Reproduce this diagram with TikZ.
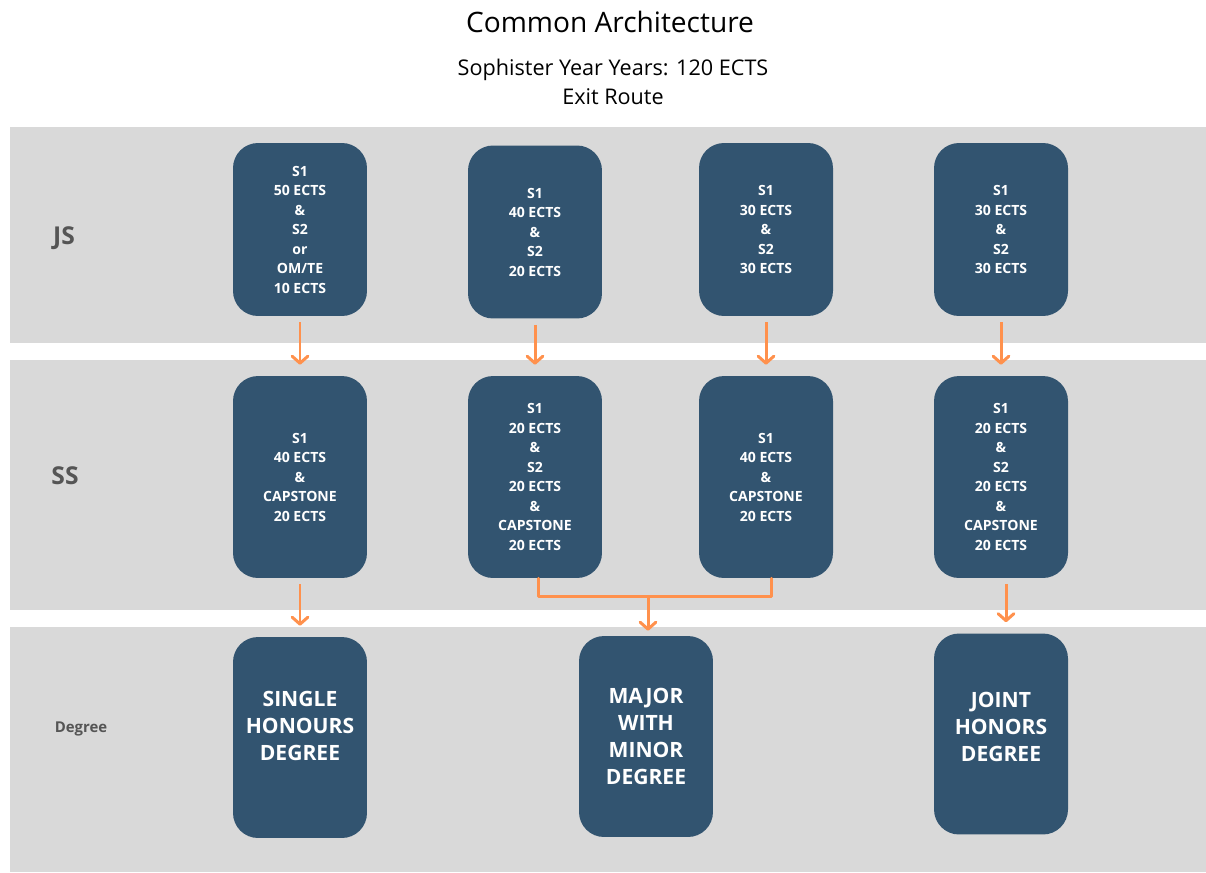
\documentclass[tikz,border=0pt]{standalone}
\usepackage{fontspec}
\setmainfont{Open Sans}
\usetikzlibrary{arrows.meta}

\definecolor{caja}{RGB}{50,84,112}
\definecolor{naranja}{RGB}{255,145,77}
\definecolor{banda}{RGB}{217,217,217}
\definecolor{etiqueta}{RGB}{85,85,85}

\tikzset{
  cajita/.style={fill=caja, rounded corners=0.5cm, minimum width=2.68cm, inner sep=0pt,
    align=center, text=white, font=\bfseries\fontsize{8}{11.1}\selectfont},
  cajajs/.style={cajita, minimum height=3.46cm},
  cajass/.style={cajita, minimum height=4.04cm},
  grado/.style={cajita, minimum height=4.02cm, font=\bfseries\fontsize{12}{15.4}\selectfont},
  flecha/.style={naranja, line width=1.7pt, -{Straight Barb[length=4pt,width=9pt,round]},
    shorten <=0.12cm, shorten >=0.22cm},
  linea/.style={naranja, line width=1.7pt, line cap=round, line join=round},
  fila/.style={text=etiqueta, font=\bfseries\fontsize{14}{16}\selectfont}
}

\begin{document}
\begin{tikzpicture}[x={(0.02cm,0)}, y={(0,-0.02cm)}]

    % Fondo
    \useasboundingbox (0,0) rectangle (1206,872);
    \fill[white] (0,0) rectangle (1206,872);
    \fill[banda] (10,127) rectangle (1206,343);
    \fill[banda] (10,360) rectangle (1206,610);
    \fill[banda] (10,627) rectangle (1206,872);

    % Titulo
    \node (titulo) at (610,22) {\fontsize{16}{19}\selectfont Common Architecture};
    \node[align=center, font=\fontsize{12.3}{16.5}\selectfont] (subtitulo) at (613,82)
        {Sophister Year Years: 120 ECTS\\Exit Route};

    % Filas
    \node[fila] (filajs) at (64,238) {JS};
    \node[fila] (filass) at (65,476) {SS};
    \node[fila, font=\bfseries\fontsize{8.5}{10}\selectfont] (filadeg) at (81,729) {Degree};

    % Junior Sophister
    \node[cajajs] (js1) at (300,229.5) {S1\\50 ECTS\\\&\\S2\\or\\OM/TE\\10 ECTS};
    \node[cajajs] (js2) at (535,232) {S1\\40 ECTS\\\&\\S2\\20 ECTS};
    \node[cajajs] (js3) at (766,229.5) {S1\\30 ECTS\\\&\\S2\\30 ECTS};
    \node[cajajs] (js4) at (1001,229.5) {S1\\30 ECTS\\\&\\S2\\30 ECTS};

    % Senior Sophister
    \node[cajass] (ss1) at (300,477) {S1\\40 ECTS\\\&\\CAPSTONE\\20 ECTS};
    \node[cajass] (ss2) at (535,477) {S1\\20 ECTS\\\&\\S2\\20 ECTS\\\&\\CAPSTONE\\20 ECTS};
    \node[cajass] (ss3) at (766,477) {S1\\40 ECTS\\\&\\CAPSTONE\\20 ECTS};
    \node[cajass] (ss4) at (1001,477) {S1\\20 ECTS\\\&\\S2\\20 ECTS\\\&\\CAPSTONE\\20 ECTS};

    % Titulos
    \node[grado] (deg1) at (300,737.5) {SINGLE\\HONOURS\\DEGREE\\[-2pt]\mbox{}};
    \node[grado] (deg2) at (646,736.5) {MAJOR\\WITH\\MINOR\\DEGREE};
    \node[grado] (deg3) at (1001,734) {JOINT\\HONORS\\DEGREE\\[-7pt]\mbox{}};

    % Flechas
    \draw[flecha] (js1) -- (ss1);
    \draw[flecha] (js2) -- (ss2);
    \draw[flecha] (js3) -- (ss3);
    \draw[flecha] (js4) -- (ss4);
    \draw[flecha] (ss1) -- (deg1);
    \draw[flecha] ([xshift=0.1cm]ss4.south) -- ([xshift=0.1cm]deg3.north);

    % Union
    \coordinate (junta) at (648,596);
    \draw[linea] ([xshift=0.06cm]ss2.south) |- (junta) -| ([xshift=0.1cm]ss3.south);
    \draw[flecha, shorten <=0pt, shorten >=0.1cm] (junta) -- (junta |- deg2.north);

\end{tikzpicture}
\end{document}
